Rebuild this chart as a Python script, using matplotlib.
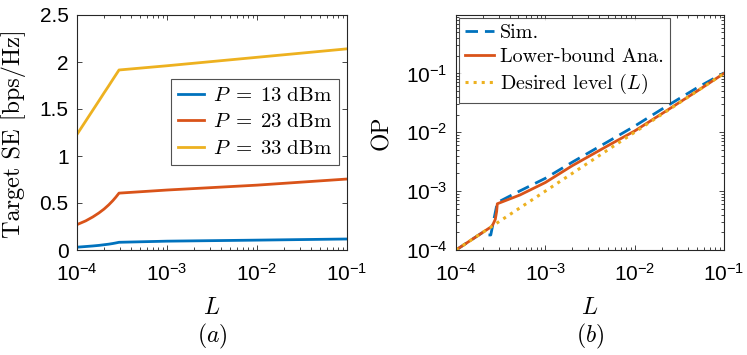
import numpy as np
import matplotlib
matplotlib.use("Agg")
import matplotlib.pyplot as plt
from matplotlib.font_manager import FontProperties
from matplotlib.ticker import LogLocator, NullFormatter

plt.rcParams['font.family'] = 'Liberation Sans'
plt.rcParams['mathtext.fontset'] = 'custom'
plt.rcParams['mathtext.rm'] = 'Liberation Sans'
plt.rcParams['mathtext.it'] = 'Liberation Sans:italic'

# ---- data (a): target SE vs L ----
L_a = [1e-4, 1.25e-4, 1.5e-4, 1.75e-4, 2e-4, 2.25e-4, 2.5e-4, 2.7e-4, 2.93e-4,
       1e-3, 1e-2, 1e-1]
se_13 = [0.03, 0.037, 0.043, 0.049, 0.056, 0.062, 0.069, 0.075, 0.082,
         0.094, 0.105, 0.117]
se_23 = [0.27, 0.31, 0.352, 0.394, 0.436, 0.48, 0.525, 0.562, 0.605,
         0.638, 0.69, 0.755]
se_33 = [1.23, 1.372, 1.488, 1.586, 1.672, 1.746, 1.814, 1.863, 1.915,
         1.96, 2.05, 2.14]
labels_a = [r'$P\;=\;13\ \mathrm{dBm}$', r'$P\;=\;23\ \mathrm{dBm}$', r'$P\;=\;33\ \mathrm{dBm}$']

# ---- data (b): OP vs L ----
L_sim = [1e-4, 1.5e-4, 1.95e-4, 2.0e-4, 2.45e-4, 2.5e-4, 2.9e-4, 5e-4,
         1e-3, 2e-3, 5e-3, 1e-2, 2e-2, 5e-2, 1e-1]
op_sim = [1e-4, 1.5e-4, 1.95e-4, 1.8e-4, 1.8e-4, 2.1e-4, 6.4e-4, 9.8e-4,
          1.65e-3, 3.1e-3, 6.9e-3, 1.27e-2, 2.45e-2, 5.7e-2, 1.02e-1]
L_ana = [1e-4, 2.5e-4, 2.6e-4, 2.75e-4, 2.85e-4, 2.9e-4, 5.2e-4, 1e-3,
         2e-3, 5e-3, 1e-2, 2e-2, 5e-2, 1e-1]
op_ana = [1e-4, 2.5e-4, 2.75e-4, 3.3e-4, 4.5e-4, 6.1e-4, 8.6e-4, 1.4e-3,
          2.7e-3, 5.9e-3, 1.05e-2, 2.05e-2, 5.0e-2, 1e-1]
L_des = [1e-4, 1e-1]
op_des = [1e-4, 1e-1]

blue, orange, yellow = '#0072BD', '#D95319', '#EDB120'

cm_lab = dict(family='cmr10', math_fontfamily='cm', size=17)
leg_a = FontProperties(family='cmr10', math_fontfamily='cm', size=15)
leg_b = FontProperties(family='cmr10', math_fontfamily='cm', size=14.5)

fig = plt.figure(figsize=(7.47, 3.55), dpi=100)
ax1 = fig.add_axes([77/747, 105/355, 270/747, 235/355])
ax2 = fig.add_axes([456/747, 105/355, 268/747, 235/355])

ax1.semilogx(L_a, se_13, color=blue, lw=2, label=labels_a[0])
ax1.semilogx(L_a, se_23, color=orange, lw=2, label=labels_a[1])
ax1.semilogx(L_a, se_33, color=yellow, lw=2, label=labels_a[2])
ax1.set_xlim(1e-4, 1e-1)
ax1.set_ylim(0, 2.5)
ax1.set_yticks([0, 0.5, 1, 1.5, 2, 2.5])
ax1.set_yticklabels(['0', '0.5', '1', '1.5', '2', '2.5'])
ax1.set_ylabel('Target SE [bps/Hz]', family='cmr10', size=17.5)
ax1.yaxis.set_label_coords(-0.19, 0.496)
lg1 = ax1.legend(loc='upper left', bbox_to_anchor=(0.348, 0.728), borderaxespad=0,
                 prop=leg_a, fancybox=False, handlelength=1.25, borderpad=0.35,
                 labelspacing=0.38, handletextpad=0.4)

ax2.loglog(L_sim, op_sim, color=blue, lw=2, dashes=(4.5, 2.5), label='Sim.')
ax2.loglog(L_ana, op_ana, color=orange, lw=2, label='Lower-bound Ana.')
ax2.loglog(L_des, op_des, color=yellow, lw=2.2, ls=':', label=r'Desired level ($L$)')
ax2.set_xlim(1e-4, 1e-1)
ax2.set_ylim(1e-4, 0.98)
ax2.set_yticks([1e-4, 1e-3, 1e-2, 1e-1])
ax2.set_ylabel('OP', **cm_lab)
ax2.yaxis.set_label_coords(-0.235, 0.5)
ax2.yaxis.set_minor_locator(LogLocator(base=10, subs=np.arange(2, 10), numticks=20))
ax2.yaxis.set_minor_formatter(NullFormatter())
lg2 = ax2.legend(loc='upper left', bbox_to_anchor=(0.011, 0.987), borderaxespad=0,
                 prop=leg_b, fancybox=False, handlelength=1.45, borderpad=0.3,
                 labelspacing=0.3, handletextpad=0.3)

for ax, tag in ((ax1, '$(a)$'), (ax2, '$(b)$')):
    ax.set_xticks([1e-4, 1e-3, 1e-2, 1e-1])
    ax.xaxis.set_minor_locator(LogLocator(base=10, subs=np.arange(2, 10), numticks=20))
    ax.xaxis.set_minor_formatter(NullFormatter())
    ax.set_xlabel('$L$', **cm_lab)
    ax.xaxis.set_label_coords(0.5, -0.2)
    ax.text(0.5, -0.37, tag, transform=ax.transAxes, ha='center', va='center', **cm_lab)
    ax.tick_params(which='both', direction='in', top=True, right=True,
                   labelsize=15, color='#262626', width=0.6, pad=6)
    ax.tick_params(axis='x', which='major', pad=9)
    ax.tick_params(which='major', length=3.5)
    ax.tick_params(which='minor', length=2)
    for s in ax.spines.values():
        s.set_color('#262626')
        s.set_linewidth(0.8)

for lg in (lg1, lg2):
    fr = lg.get_frame()
    fr.set_edgecolor('#262626')
    fr.set_linewidth(0.8)

fig.savefig('out.png', dpi=100)
